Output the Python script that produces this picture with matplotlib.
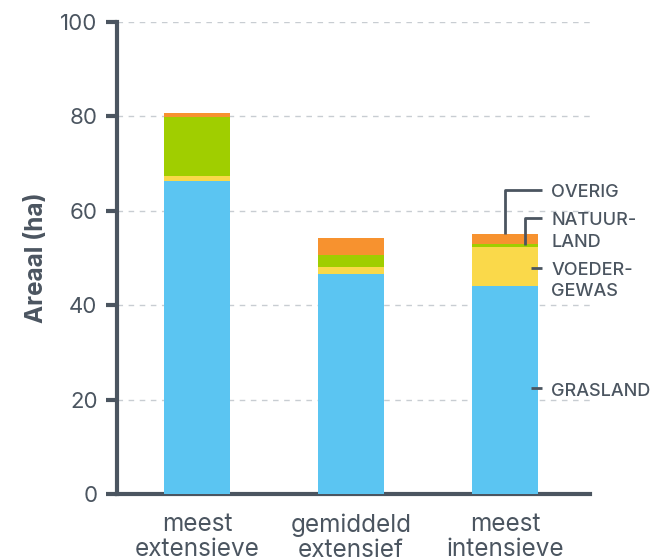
import matplotlib.pyplot as plt
import numpy as np

plt.rcParams['font.family'] = ['Inter', 'DejaVu Sans']

categories = ['meest\nextensieve', 'gemiddeld\nextensief', 'meest\nintensieve']
grasland = [66.3, 46.6, 44.1]
voedergewas = [1.1, 1.5, 8.3]
natuurland = [12.4, 2.5, 0.6]
overig = [0.9, 3.6, 2.1]

series = [grasland, voedergewas, natuurland, overig]
colors = ['#5BC5F2', '#FAD94A', '#A0CE00', '#F7922F']
dark = '#4B5560'

fig = plt.figure(figsize=(6.66, 5.58), dpi=100)
ax = fig.add_axes([0.1757, 0.1147, 0.71, 0.8459])

x = np.arange(len(categories))
bottom = np.zeros(len(categories))
for vals, col in zip(series, colors):
    ax.bar(x, vals, bottom=bottom, width=0.43, color=col, zorder=3)
    bottom += np.array(vals)

ax.set_xlim(-0.52, 2.55)
ax.set_ylim(0, 100)
ax.set_yticks([0, 20, 40, 60, 80, 100])
ax.set_xticks(x)
ax.set_xticklabels(categories, fontsize=17.5, color=dark, linespacing=1.1)
ax.tick_params(axis='y', labelsize=16, colors=dark, length=8, width=3, pad=6)
ax.tick_params(axis='x', length=0, pad=14)
for lbl in ax.get_yticklabels():
    lbl.set_color(dark)

ax.yaxis.grid(True, linestyle=(0, (4, 4)), color='#C8CDD2', linewidth=1, zorder=0)
for s in ['top', 'right']:
    ax.spines[s].set_visible(False)
for s in ['left', 'bottom']:
    ax.spines[s].set_color(dark)
    ax.spines[s].set_linewidth(3)

ax.set_ylabel('Areaal (ha)', fontsize=17.5, fontweight='bold', color=dark, labelpad=9)

# labels for the last bar
i = 2
b = np.cumsum([s[i] for s in series])
lab_x = 2.30
line_end = 2.24
lw = 2
fs = 13
dy = -0.8
kw = dict(fontsize=fs, color=dark, va='center', fontweight='medium')
# overig
ax.plot([x[i], x[i], line_end], [b[3], 64.4, 64.4], color=dark, lw=lw, zorder=4, solid_capstyle='butt')
ax.text(lab_x, 64.6 + dy, 'OVERIG', **kw)
# natuurland
ax.plot([x[i] + 0.13, x[i] + 0.13, line_end], [b[2] - 0.3, 58.4, 58.4], color=dark, lw=lw, zorder=4, solid_capstyle='butt')
ax.text(lab_x, 58.7 + dy, 'NATUUR-', **kw)
ax.text(lab_x, 54.0 + dy, 'LAND', **kw)
# voedergewas
ax.plot([x[i] + 0.17, line_end], [47.9, 47.9], color=dark, lw=lw, zorder=4, solid_capstyle='butt')
ax.text(lab_x, 48.1 + dy, 'VOEDER-', **kw)
ax.text(lab_x, 43.6 + dy, 'GEWAS', **kw)
# grasland
ax.plot([x[i] + 0.17, line_end], [22.4, 22.4], color=dark, lw=lw, zorder=4, solid_capstyle='butt')
ax.text(lab_x, 22.5 + dy, 'GRASLAND', **kw)

fig.savefig('out.png', dpi=100)
